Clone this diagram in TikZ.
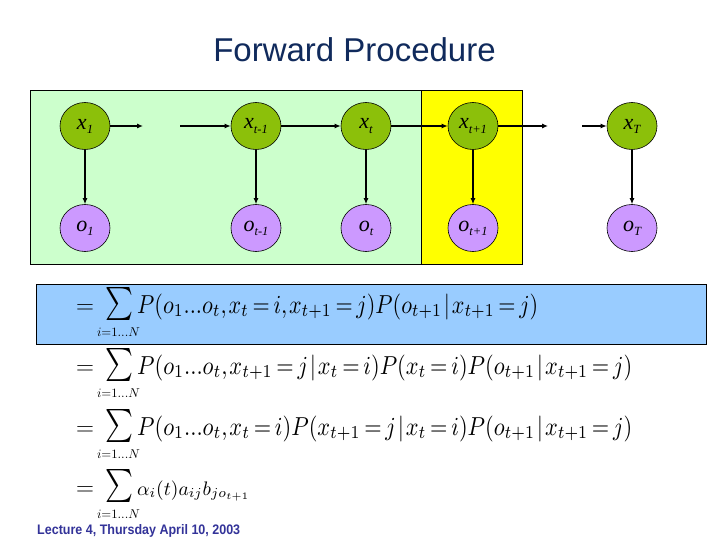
\documentclass[tikz,border=0pt]{standalone}
\usepackage{fontspec}
\setmainfont{Liberation Serif}
\newfontfamily\sansf{Liberation Sans}
\usetikzlibrary{arrows.meta,shapes.geometric}
\definecolor{bgreen}{RGB}{204,255,204}
\definecolor{byellow}{RGB}{255,255,0}
\definecolor{bblue}{RGB}{153,204,255}
\definecolor{cgreen}{RGB}{140,192,10}
\definecolor{cpurple}{RGB}{204,153,255}
\definecolor{titlec}{RGB}{16,42,92}
\definecolor{footc}{RGB}{51,51,153}
\newcommand{\lbl}[2]{{\fontsize{22}{22}\selectfont\itshape #1\raisebox{-0.4ex}{\fontsize{12.5}{12.5}\selectfont #2}}}
\newcommand{\tightm}{\thickmuskip=3mu\medmuskip=2mu\thinmuskip=1.5mu}
% #1 baseline y, #2 name prefix, #3 body box content
\newcommand{\eqrow}[3]{%
  \begin{scope}[shift={(0,#1)}]
    \node[eqn] (#2eq) at (76,0) {\fontsize{24}{24}\selectfont$=$};
    \node[inner sep=0pt] (#2sum) at (120,-9) {\resizebox*{28pt}{33pt}{$\sum$}};
    \node[inner sep=0pt] (#2lim) at (118.5,19.5) {\resizebox{43pt}{!}{\thickmuskip=1mu$i{=}1...N$}};
    \node[eqn] (#2body) at (137,0) {#3};
  \end{scope}}
\tikzset{
  hid/.style={ellipse, minimum width=50pt, minimum height=47pt, inner sep=0pt, draw=black, line width=0.6pt, fill=cgreen},
  obs/.style={ellipse, minimum width=50pt, minimum height=47pt, inner sep=0pt, draw=black, line width=0.6pt, fill=cpurple},
  arr/.style={line width=1.1pt, -{Latex[length=6pt,width=5pt]}},
  eqn/.style={anchor=base west, inner sep=0pt}
}
\begin{document}
\begin{tikzpicture}[x=1pt,y=-1pt]
\useasboundingbox (0,0) rectangle (720,540);
\fill[white] (0,0) rectangle (720,540);
% title
\node[text=titlec, font=\sansf\fontsize{33}{36}\selectfont] (title) at (354.5,50) {Forward Procedure};
% boxes
\draw[fill=bgreen, line width=0.8pt] (30,90) rectangle (421,264);
\draw[fill=byellow, line width=0.8pt] (421,90) rectangle (522,264);
% nodes
\node[hid] (x1) at (85,126) {\lbl{x}{1}};
\node[hid] (xtm) at (256,126) {\lbl{x}{t-1}};
\node[hid] (xt) at (366,126) {\lbl{x}{t}};
\node[hid] (xtp) at (473,126) {\lbl{x}{t+1}};
\node[hid] (xT) at (632,126) {\lbl{x}{T}};
\node[obs] (o1) at (85,228) {\lbl{o}{1}};
\node[obs] (otm) at (256,228) {\lbl{o}{t-1}};
\node[obs] (ot) at (366,228) {\lbl{o}{t}};
\node[obs] (otp) at (473,228) {\lbl{o}{t+1}};
\node[obs] (oT) at (632,228) {\lbl{o}{T}};
\coordinate (s1) at (143,126);
\coordinate (s2) at (180,126);
\coordinate (s3) at (548,126);
\coordinate (s4) at (582,126);
% arrows
\draw[arr] (x1) -- (s1);
\draw[arr] (s2) -- (xtm);
\draw[arr] (xtm) -- (xt);
\draw[arr] (xt) -- (xtp);
\draw[arr] (xtp) -- (s3);
\draw[arr] (s4) -- (xT);
\draw[arr] (x1) -- (o1);
\draw[arr] (xtm) -- (otm);
\draw[arr] (xt) -- (ot);
\draw[arr] (xtp) -- (otp);
\draw[arr] (xT) -- (oT);
% blue box
\draw[fill=bblue, line width=0.8pt] (36,284) rectangle (706,344);
% equations
\eqrow{313}{a}{\resizebox*{401pt}{26pt}{\tightm$P(o_1...o_t, x_t=i, x_{t+1}=j)P(o_{t+1}\,|\,x_{t+1}=j)$}}
\eqrow{374}{b}{\resizebox*{495pt}{26pt}{\tightm$P(o_1...o_t, x_{t+1}=j\,|\,x_t=i)P(x_t=i)P(o_{t+1}\,|\,x_{t+1}=j)$}}
\eqrow{435}{c}{\resizebox*{495pt}{26pt}{\tightm$P(o_1...o_t, x_t=i)P(x_{t+1}=j\,|\,x_t=i)P(o_{t+1}\,|\,x_{t+1}=j)$}}
\eqrow{495}{d}{\resizebox{113pt}{!}{\tightm$\alpha_i(t)a_{ij}b_{jo_{t+1}}$}}
% footer
\node[anchor=base west, inner sep=0pt, text=footc] (foot) at (37,534) {\resizebox{203pt}{10pt}{\sansf\bfseries\fontsize{10}{12}\selectfont Lecture 4, Thursday April 10, 2003}};
\end{tikzpicture}
\end{document}
